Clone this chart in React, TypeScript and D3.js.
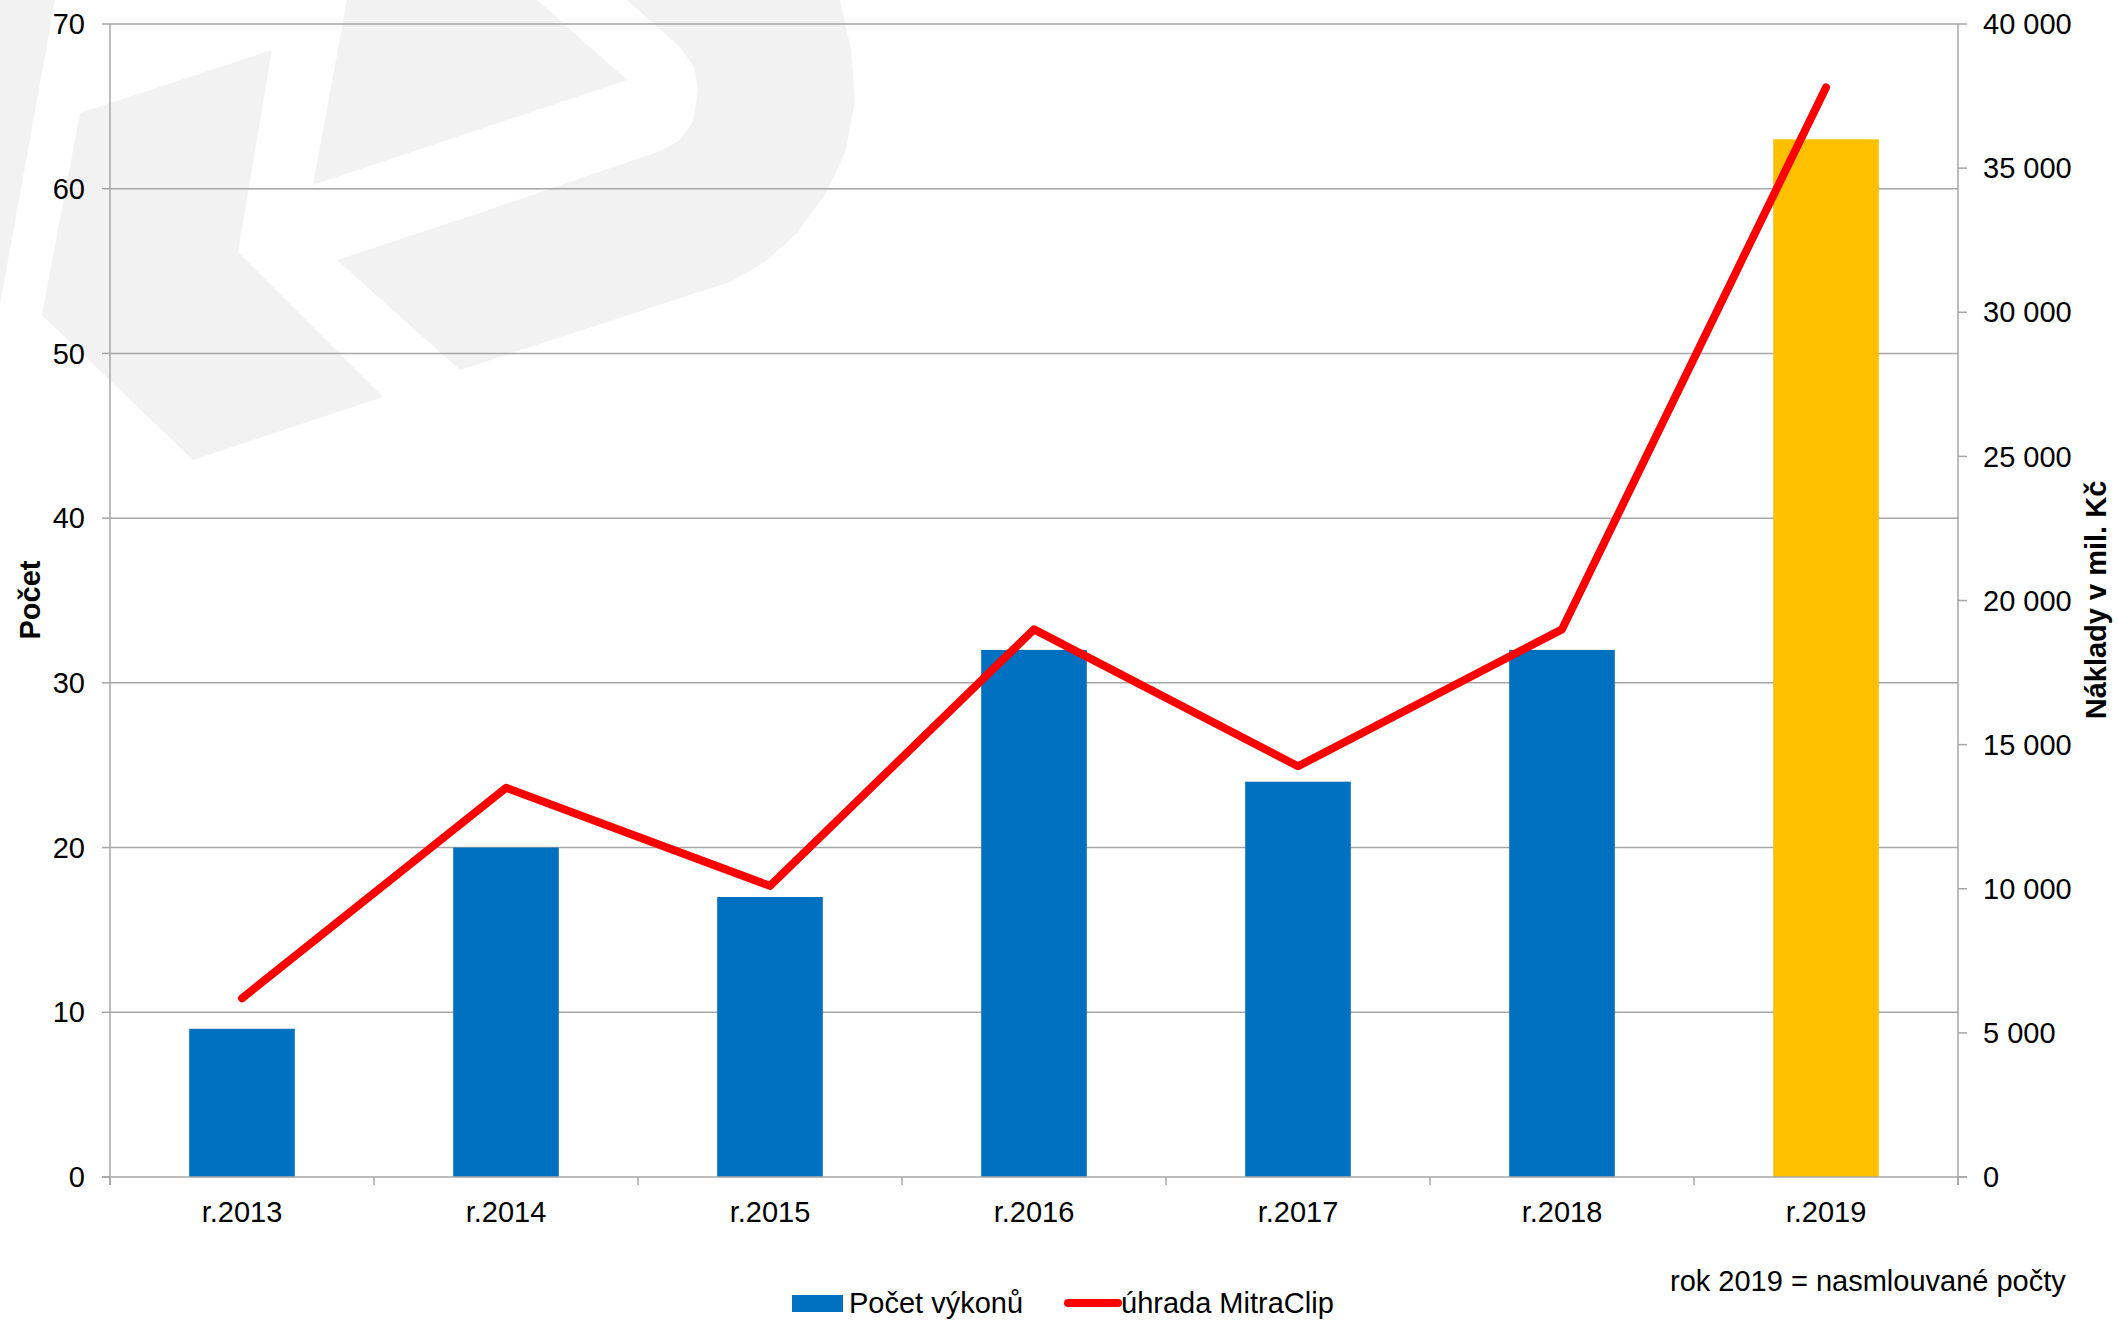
import React from 'react';
import * as d3 from 'd3';

const categories = ['r.2013', 'r.2014', 'r.2015', 'r.2016', 'r.2017', 'r.2018', 'r.2019'];
const pocetVykonu = [9, 20, 17, 32, 24, 32, 63];
const uhradaMitraClip = [6200, 13500, 10100, 19000, 14250, 19000, 37800];
const leftTicks = [0, 10, 20, 30, 40, 50, 60, 70];
const rightTicks = [0, 5000, 10000, 15000, 20000, 25000, 30000, 35000, 40000];

const W = 2119;
const H = 1320;
const PL = 110;
const PR = 1958;
const PT = 24;
const PB = 1177;

const FONT = '"Liberation Sans", Arial, sans-serif';
const GRID = '#a6a6a6';
const FS = 29;

// decorative watermark logo (background)
const wmSliver: [number, number][] = [[0, 0], [55, 0], [0, 305]];
const wmChevron: [number, number][] = [[80, 113], [272, 50], [238, 252], [383, 397], [193, 460], [42, 315]];
const wmArrow: [number, number][] = [[313, 185], [347, 0], [537, 0], [627, 80]];
const wmLoop: [number, number][] = [
  [627, 0], [680, 47], [694, 67], [698, 90], [693, 122], [680, 140], [660, 151], [480, 213], [337, 260],
  [460, 370], [730, 282], [765, 262], [797, 233], [826, 193], [846, 150], [855, 100], [851, 50], [840, 0],
];

const fmt = d3.formatLocale({ decimal: ',', thousands: ' ', grouping: [3], currency: ['', ''] }).format(',d');

export default function App() {
  const x = d3.scaleBand<string>().domain(categories).range([PL, PR]).paddingInner(0.6).paddingOuter(0.3);
  const yL = d3.scaleLinear().domain([0, 70]).range([PB, PT]);
  const yR = d3.scaleLinear().domain([0, 40000]).range([PB, PT]);
  const cx = (c: string) => (x(c) as number) + x.bandwidth() / 2;
  const lineGen = d3.line<number>().x((_, i) => cx(categories[i])).y((d) => yR(d));
  const poly = (pts: [number, number][]) => 'M' + pts.map((p) => p.join(',')).join('L') + 'Z';
  const step = x.step();
  const boundaries = d3.range(categories.length + 1).map((i) => PL + i * step);

  return (
    <svg width={W} height={H} style={{ position: 'absolute', left: 0, top: 0, background: '#fff' }} fontFamily={FONT}>
      <rect x={0} y={0} width={W} height={H} fill="#fff" />
      <g fill="#f2f2f2">
        <path d={poly(wmSliver)} />
        <path d={poly(wmChevron)} />
        <path d={poly(wmArrow)} />
        <path d={poly(wmLoop)} />
      </g>
      {/* gridlines */}
      {leftTicks.filter((t) => t > 0).map((t) => (
        <line key={t} x1={PL} x2={PR} y1={yL(t)} y2={yL(t)} stroke={GRID} strokeWidth={1.5} />
      ))}
      {/* bars */}
      {pocetVykonu.map((v, i) => (
        <rect
          key={categories[i]}
          x={x(categories[i])}
          y={yL(v)}
          width={x.bandwidth()}
          height={PB - yL(v)}
          fill={i === categories.length - 1 ? '#ffc000' : '#0070c0'}
        />
      ))}
      {/* axes */}
      <line x1={PL} x2={PL} y1={PT} y2={PB + 8} stroke={GRID} strokeWidth={1.5} />
      <line x1={PR} x2={PR} y1={PT} y2={PB + 8} stroke={GRID} strokeWidth={1.5} />
      <line x1={PL - 8} x2={PR + 9} y1={PB} y2={PB} stroke={GRID} strokeWidth={1.5} />
      {leftTicks.map((t) => (
        <g key={'l' + t}>
          <line x1={PL - 8} x2={PL} y1={yL(t)} y2={yL(t)} stroke={GRID} strokeWidth={1.5} />
          <text x={85} y={yL(t)} dy="0.35em" textAnchor="end" fontSize={FS} fill="#000">{t}</text>
        </g>
      ))}
      {rightTicks.map((t) => (
        <g key={'r' + t}>
          <line x1={PR} x2={PR + 9} y1={yR(t)} y2={yR(t)} stroke={GRID} strokeWidth={1.5} />
          <text x={1983} y={yR(t)} dy="0.35em" textAnchor="start" fontSize={FS} fill="#000">{fmt(t)}</text>
        </g>
      ))}
      {boundaries.map((b, i) => (
        <line key={'b' + i} x1={b} x2={b} y1={PB} y2={PB + 8} stroke={GRID} strokeWidth={1.5} />
      ))}
      {categories.map((c) => (
        <text key={c} x={cx(c)} y={1222} textAnchor="middle" fontSize={FS} fill="#000">{c}</text>
      ))}
      {/* line series */}
      <path d={lineGen(uhradaMitraClip) as string} fill="none" stroke="#ff0000" strokeWidth={8} strokeLinejoin="round" strokeLinecap="round" />
      {/* axis titles */}
      <text transform="translate(40,600) rotate(-90)" textAnchor="middle" fontSize={FS} fontWeight="bold" fill="#000">Počet</text>
      <text transform="translate(2106,600) rotate(-90)" textAnchor="middle" fontSize={FS} fontWeight="bold" fill="#000">Náklady v mil. Kč</text>
      {/* legend */}
      <rect x={792} y={1295} width={51} height={17} fill="#0070c0" />
      <text x={849} y={1313} fontSize={FS} fill="#000">Počet výkonů</text>
      <line x1={1068} x2={1118} y1={1303} y2={1303} stroke="#ff0000" strokeWidth={8} strokeLinecap="round" />
      <text x={1121} y={1313} fontSize={FS} fill="#000">úhrada MitraClip</text>
      <text x={1670} y={1291} fontSize={FS} fill="#000">rok 2019 = nasmlouvané počty</text>
    </svg>
  );
}
